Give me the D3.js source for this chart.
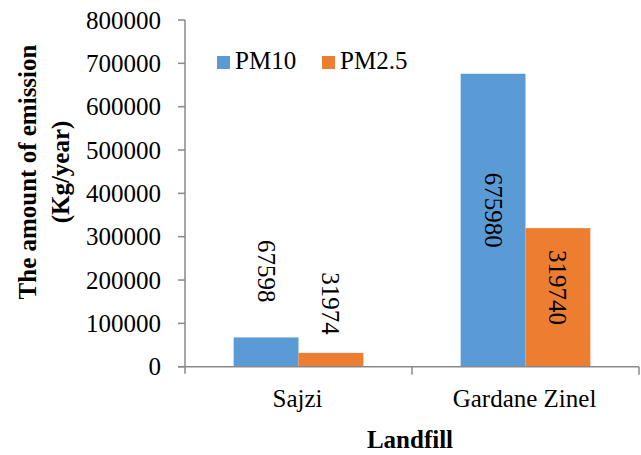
<!DOCTYPE html>
<html><head><meta charset="utf-8">
<script src="https://cdn.jsdelivr.net/npm/d3@7"></script>
<style>
body{margin:0;}
.t{font-family:'Liberation Serif',Tinos,'Times New Roman',Times,serif !important;font-size:25px;font-weight:400;}
.b{font-family:'Liberation Serif',Tinos,'Times New Roman',Times,serif !important;font-size:25px;font-weight:700;}
</style>
</head>
<body>
<svg id="chart" width="641" height="455"></svg>
<script>
const categories = ["Sajzi", "Gardane Zinel"];
const seriesNames = ["PM10", "PM2.5"];
const pm10 = [67598, 675980];
const pm25 = [31974, 319740];
const yTicks = [0, 100000, 200000, 300000, 400000, 500000, 600000, 700000, 800000];
const colors = ["#5B9BD5", "#ED7D31"];
const values = [pm10, pm25];

(function () {
const svg = d3.select("#chart");
const mLeft = 185, mRight = 639, mTop = 20, mBottom = 366.7;
const axisColor = "#898989";

const y = d3.scaleLinear().domain([0, 800000]).range([mBottom, mTop]);
const x = d3.scaleBand().domain(categories).range([mLeft, mRight]).paddingInner(0).paddingOuter(0);
const x1 = d3.scaleBand().domain(seriesNames).range([0, x.bandwidth()]).paddingInner(0).paddingOuter(0.75);

const data = [];
categories.forEach((c, i) => seriesNames.forEach((s, j) => data.push({c, s, j, v: values[j][i]})));

svg.append("g").selectAll("rect").data(data).join("rect")
  .attr("x", d => x(d.c) + x1(d.s))
  .attr("y", d => y(d.v))
  .attr("width", x1.bandwidth())
  .attr("height", d => y(0) - y(d.v))
  .attr("fill", d => colors[d.j]);

// y axis
const gy = svg.append("g");
gy.selectAll("line").data(yTicks).join("line")
  .attr("x1", mLeft - 7).attr("x2", mLeft).attr("y1", d => y(d)).attr("y2", d => y(d))
  .attr("stroke", axisColor).attr("stroke-width", 1.5);
gy.selectAll("text").data(yTicks).join("text").attr("class", "t")
  .attr("x", mLeft - 24).attr("y", d => y(d)).attr("dy", "0.34em").attr("text-anchor", "end")
  .text(d => String(d));
svg.append("line").attr("x1", mLeft).attr("x2", mLeft).attr("y1", mTop).attr("y2", mBottom + 7)
  .attr("stroke", axisColor).attr("stroke-width", 1.5);

// x axis
svg.append("line").attr("x1", mLeft - 7).attr("x2", mRight).attr("y1", y(0)).attr("y2", y(0))
  .attr("stroke", axisColor).attr("stroke-width", 1.5);
const bounds = categories.map(c => x(c) + x.bandwidth());
svg.append("g").selectAll("line").data(bounds).join("line")
  .attr("x1", d => d).attr("x2", d => d).attr("y1", y(0)).attr("y2", y(0) + 8)
  .attr("stroke", axisColor).attr("stroke-width", 1.5);
svg.append("g").selectAll("text").data(categories).join("text").attr("class", "t")
  .attr("x", d => x(d) + x.bandwidth() / 2 - 1)
  .attr("y", 406.5)
  .attr("text-anchor", "middle").text(d => d);

// data labels (rotated)
svg.append("g").selectAll("text").data(data).join("text").attr("class", "t")
  .attr("transform", d => {
    const cx = x(d.c) + x1(d.s) + x1.bandwidth() / 2;
    const topY = y(d.v);
    const labelLen = 12.5 * String(d.v).length;
    let cy;
    if (y(0) - topY > labelLen + 20) {
      cy = (topY + y(0)) / 2 - 10;
    } else {
      const gap = d.j === 0 ? 35 : 18;
      cy = topY - gap - labelLen / 2;
    }
    return `translate(${cx},${cy}) rotate(90)`;
  })
  .attr("text-anchor", "middle").attr("dy", "0.34em").text(d => d.v);

// legend
const legend = svg.append("g");
const legX = [217, 322];
seriesNames.forEach((s, j) => {
  legend.append("rect").attr("x", legX[j]).attr("y", 56).attr("width", 13).attr("height", 13).attr("fill", colors[j]);
  legend.append("text").attr("class", "t").attr("x", legX[j] + 18).attr("y", 69.3).text(s);
});

// axis titles
svg.append("text").attr("class", "b").attr("transform", "translate(27,172) rotate(-90)")
  .attr("text-anchor", "middle").attr("dy", "0.34em")
  .text("The amount of emission");
svg.append("text").attr("class", "b").attr("transform", "translate(60,172) rotate(-90)")
  .attr("text-anchor", "middle").attr("dy", "0.34em")
  .text("(Kg/year)");
svg.append("text").attr("class", "b").attr("x", 410).attr("y", 448).attr("text-anchor", "middle")
  .text("Landfill");
})();
</script>
</body></html>
